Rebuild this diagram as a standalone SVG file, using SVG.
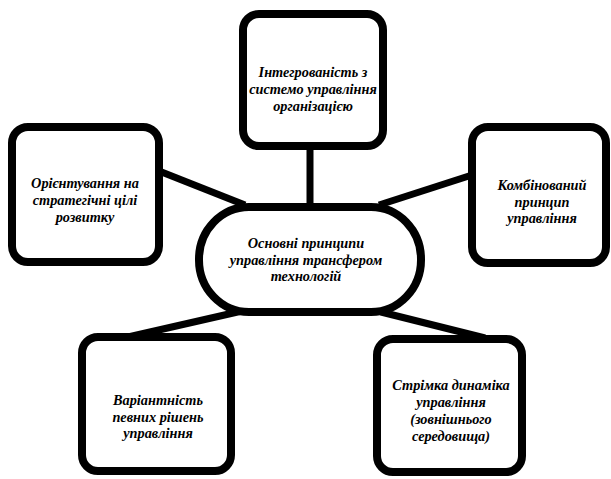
<svg xmlns="http://www.w3.org/2000/svg" width="611" height="479" viewBox="0 0 611 479">
<style>
.box{fill:#fff;stroke:#000;stroke-width:8}
.ln{stroke:#000;stroke-width:7;stroke-linecap:butt;fill:none}
</style>
<rect width="611" height="479" fill="#fff"/>
<g id="connectors">
<line class="ln" x1="310" y1="146" x2="310" y2="207"/>
<line class="ln" x1="159" y1="171" x2="245" y2="205"/>
<line class="ln" x1="472" y1="175" x2="379" y2="205"/>
<line class="ln" x1="242" y1="311" x2="128" y2="337"/>
<line class="ln" x1="381" y1="312" x2="485" y2="338"/>
</g>
<g id="top">
<rect class="box" x="243" y="14" width="140" height="132" rx="16"/>
<text font-family="Liberation Serif" font-size="14.3" font-weight="bold" font-style="italic" text-anchor="middle"><tspan x="313" y="77">Інтегрованість з</tspan><tspan x="313" y="94">системо управління</tspan><tspan x="313" y="111">організацією</tspan></text>
</g>
<g id="left">
<rect class="box" x="12" y="127" width="147" height="135" rx="16"/>
<text font-family="Liberation Serif" font-size="14.3" font-weight="bold" font-style="italic" text-anchor="middle"><tspan x="85" y="188">Орієнтування на</tspan><tspan x="85" y="205">стратегічні цілі</tspan><tspan x="85" y="222">розвитку</tspan></text>
</g>
<g id="right">
<rect class="box" x="472" y="127" width="134" height="136" rx="16"/>
<text font-family="Liberation Serif" font-size="14.3" font-weight="bold" font-style="italic" text-anchor="middle"><tspan x="542" y="190">Комбінований</tspan><tspan x="542" y="207">принцип</tspan><tspan x="542" y="223">управління</tspan></text>
</g>
<g id="center">
<rect class="box" x="199" y="207" width="222" height="105" rx="50" ry="52"/>
<text font-family="Liberation Serif" font-size="14.3" font-weight="bold" font-style="italic" text-anchor="middle"><tspan x="306" y="248">Основні принципи</tspan><tspan x="306" y="265">управління трансфером</tspan><tspan x="306" y="281">технологій</tspan></text>
</g>
<g id="bottom-left">
<rect class="box" x="82" y="337" width="149" height="134" rx="16"/>
<text font-family="Liberation Serif" font-size="14.3" font-weight="bold" font-style="italic" text-anchor="middle"><tspan x="158" y="405">Варіантність</tspan><tspan x="158" y="422">певних рішень</tspan><tspan x="158" y="438">управління</tspan></text>
</g>
<g id="bottom-right">
<rect class="box" x="377" y="339" width="145" height="133" rx="16"/>
<text font-family="Liberation Serif" font-size="14.3" font-weight="bold" font-style="italic" text-anchor="middle"><tspan x="451" y="390">Стрімка динаміка</tspan><tspan x="451" y="407">управління</tspan><tspan x="451" y="424">(зовнішнього</tspan><tspan x="451" y="441">середовища)</tspan></text>
</g>
</svg>
